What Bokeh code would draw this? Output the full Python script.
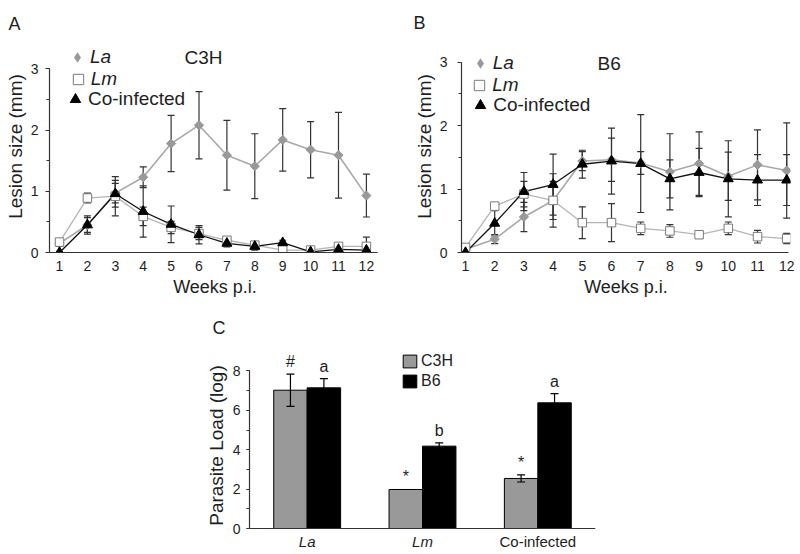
import math
from bokeh.plotting import figure
from bokeh.models import (ColumnDataSource, Range1d, FactorRange, Whisker, TeeHead, Legend,
                          LegendItem, Label, FixedTicker, SingleIntervalTicker, Span)
from bokeh.layouts import column, row
from bokeh.transform import dodge
from bokeh.core.properties import value
from bokeh.embed import file_html
from bokeh.resources import INLINE

# ---------------- data ----------------
weeks = [1, 2, 3, 4, 5, 6, 7, 8, 9, 10, 11, 12]

# Panel A: C3H lesion size (mm)
c3h_la = [0.15, 0.45, 0.97, 1.23, 1.78, 2.08, 1.59, 1.41, 1.84, 1.68, 1.59, 0.93]
c3h_la_err = [0.05, 0.12, 0.16, 0.17, 0.46, 0.55, 0.57, 0.53, 0.51, 0.46, 0.70, 0.35]
c3h_lm = [0.17, 0.89, 0.92, 0.59, 0.41, 0.31, 0.20, 0.12, 0.04, 0.04, 0.10, 0.10]
c3h_lm_err = [0.05, 0.08, 0.32, 0.15, 0.10, 0.10, 0.05, 0.04, 0.02, 0.03, 0.04, 0.15]
c3h_co = [0.00, 0.45, 0.96, 0.67, 0.46, 0.29, 0.15, 0.10, 0.16, 0.01, 0.05, 0.04]
c3h_co_err = [0.02, 0.15, 0.22, 0.42, 0.30, 0.15, 0.06, 0.06, 0.04, 0.02, 0.02, 0.04]

# Panel B: B6 lesion size (mm)
b6_la = [0.05, 0.21, 0.56, 0.82, 1.44, 1.46, 1.41, 1.27, 1.40, 1.20, 1.38, 1.29]
b6_la_err = [0.02, 0.07, 0.23, 0.42, 0.15, 0.34, 0.18, 0.60, 0.50, 0.38, 0.55, 0.75]
b6_lm = [0.08, 0.73, 0.92, 0.82, 0.47, 0.47, 0.38, 0.34, 0.28, 0.38, 0.25, 0.22]
b6_lm_err = [0.03, 0.05, 0.20, 0.30, 0.25, 0.30, 0.10, 0.10, 0.03, 0.10, 0.10, 0.08]
b6_co = [0.00, 0.46, 0.96, 1.07, 1.39, 1.44, 1.40, 1.16, 1.26, 1.16, 1.14, 1.14]
b6_co_err = [0.02, 0.20, 0.30, 0.48, 0.22, 0.52, 0.77, 0.30, 0.38, 0.60, 0.40, 0.40]

# Panel C: parasite load (log)
categories = ["La", "Lm", "Co-infected"]
load_c3h = [7.02, 1.98, 2.54]
load_c3h_err = [0.82, 0.0, 0.18]
load_b6 = [7.14, 4.18, 6.38]
load_b6_err = [0.47, 0.17, 0.47]
sig_c3h = ["#", "*", "*"]
sig_b6 = ["a", "b", "a"]

series_names = ["La", "Lm", "Co-infected"]
strain_names = ["C3H", "B6"]

# ---------------- styles ----------------
FONT = "Liberation Sans"
AXIS_COLOR = "#333333"
TEXT_COLOR = "#1e1e1e"
ERR_COLOR = "#333333"
LA_COLOR = "#999999"
LA_LINE = "#a8a8a8"
LM_LINE = "#b5b5b5"
LM_EDGE = "#7a7a7a"
ITALIC = {"La", "Lm"}


def base_style(p):
    p.outline_line_color = None
    p.xgrid.visible = False
    p.ygrid.visible = False
    for ax in (p.xaxis[0], p.yaxis[0]):
        ax.axis_line_color = AXIS_COLOR
        ax.axis_line_width = 1.2
        ax.major_tick_line_color = AXIS_COLOR
        ax.minor_tick_line_color = AXIS_COLOR
        ax.major_label_text_font = FONT
        ax.major_label_text_color = TEXT_COLOR
        ax.axis_label_text_font = FONT
        ax.axis_label_text_font_style = "normal"
        ax.axis_label_text_color = TEXT_COLOR


def panel_letter(p, letter, offset, standoff):
    p.title.text = letter
    p.title.align = "left"
    p.title.offset = offset
    p.title.standoff = standoff
    p.title.text_font = FONT
    p.title.text_font_size = "18px"
    p.title.text_font_style = "normal"
    p.title.text_color = TEXT_COLOR


def add_legend_item(p, label, renderer, vx, vy, standoff, size=26, font_size="19px"):
    lg = Legend(items=[LegendItem(label=label, renderers=[renderer])],
                location=(vx, vy), glyph_width=size, glyph_height=size, label_height=size,
                label_standoff=standoff, padding=0, margin=0, spacing=0,
                border_line_color=None, background_fill_alpha=0,
                label_text_font=FONT, label_text_font_size=font_size,
                label_text_font_style="italic" if label in ITALIC else "normal",
                label_text_color=TEXT_COLOR)
    p.add_layout(lg)


def lesion_panel(letter, strain, la, la_err, lm, lm_err, co, co_err, g):
    p = figure(width=400, height=308, output_backend="svg", toolbar_location=None,
               x_range=Range1d(g["x0"], g["x1"]), y_range=Range1d(0, g["y1"]),
               min_border_left=g["bl"], min_border_right=g["br"],
               min_border_top=40, min_border_bottom=56)
    base_style(p)
    panel_letter(p, letter, g["lt"][0], g["lt"][1])
    xa, ya = p.xaxis[0], p.yaxis[0]
    xa.ticker = FixedTicker(ticks=weeks)
    xa.bounds = (g["x0"], g["xb"])
    xa.major_tick_out = 0
    xa.major_tick_in = 0
    xa.minor_tick_out = 0
    xa.minor_tick_in = 0
    xa.major_label_text_font_size = "14px"
    xa.major_label_standoff = 8
    xa.axis_label = "Weeks p.i."
    xa.axis_label_text_font_size = "18px"
    xa.axis_label_standoff = 3
    ya.ticker = SingleIntervalTicker(interval=1, num_minor_ticks=2)
    ya.bounds = (0, 3)
    ya.major_tick_out = 4
    ya.major_tick_in = 0
    ya.minor_tick_out = 3
    ya.minor_tick_in = 0
    ya.major_label_text_font_size = "14px"
    ya.major_label_standoff = g["ls"]
    ya.axis_label = "Lesion size (mm)"
    ya.axis_label_text_font_size = "19px"
    ya.axis_label_standoff = 2

    src = ColumnDataSource(dict(
        w=weeks, la=la, lm=lm, co=co,
        la_lo=[v - e for v, e in zip(la, la_err)], la_hi=[v + e for v, e in zip(la, la_err)],
        lm_lo=[v - e for v, e in zip(lm, lm_err)], lm_hi=[v + e for v, e in zip(lm, lm_err)],
        co_lo=[v - e for v, e in zip(co, co_err)], co_hi=[v + e for v, e in zip(co, co_err)],
    ))
    for key in ("la", "lm", "co"):
        wk = Whisker(base="w", lower=key + "_lo", upper=key + "_hi", source=src,
                     line_color=ERR_COLOR, line_width=1.2,
                     upper_head=TeeHead(size=7, line_color=ERR_COLOR, line_width=1.2),
                     lower_head=TeeHead(size=7, line_color=ERR_COLOR, line_width=1.2))
        p.add_layout(wk)

    p.line("w", "la", source=src, line_color=LA_LINE, line_width=1.6)
    p.line("w", "lm", source=src, line_color=LM_LINE, line_width=1.3)
    p.line("w", "co", source=src, line_color="#111111", line_width=1.3)
    p.scatter("w", "la", source=src, marker="square", angle=math.pi / 4, size=6.5,
              fill_color=LA_COLOR, line_color=LA_COLOR)
    r_lm = p.scatter("w", "lm", source=src, marker="square", size=8.5,
                     fill_color="white", line_color=LM_EDGE, line_width=1)
    r_co = p.scatter("w", "co", source=src, marker="triangle", size=10,
                     fill_color="black", line_color="black")
    # legend swatch for La: diamond marker (the legend does not rotate glyphs)
    r_la_key = p.scatter("w", "la", source=src, marker="diamond", size=0,
                         fill_color=LA_COLOR, line_alpha=0)

    for name, r, key in zip(series_names, (r_la_key, r_lm, r_co), ("la", "lm", "co")):
        lx, ly, st = g["leg"][key]
        add_legend_item(p, name, r, lx, ly, st)

    p.add_layout(Label(x=g["st"][0], y=g["st"][1], x_units="screen", y_units="screen",
                       text=strain, text_font=FONT, text_font_size="19px",
                       text_baseline="middle", text_align="left", text_color=TEXT_COLOR))
    return p


geomA = dict(x0=0.6416, x1=0.6416 + 331 / 27.9, xb=12.39, y1=212 / 61.2, bl=49, br=20, ls=7,
             leg=dict(la=(15, 181.7, 0), lm=(15.7, 159.7, 0), co=(13, 139.7, 0)),
             st=(135, 195), lt=(-41, 14))
geomB = dict(x0=0.863, x1=0.863 + 329 / 29.2, xb=12.06, y1=212 / 63.5, bl=61, br=10, ls=10,
             leg=dict(la=(5.7, 176, 0), lm=(5.2, 154, 0), co=(6.2, 134, 0)),
             st=(136, 189), lt=(-48, 15))

pA = lesion_panel("A", strain_names[0], c3h_la, c3h_la_err, c3h_lm, c3h_lm_err, c3h_co, c3h_co_err, geomA)
pB = lesion_panel("B", strain_names[1], b6_la, b6_la_err, b6_lm, b6_lm_err, b6_co, b6_co_err, geomB)

# ---------------- panel C ----------------
Y_UNIT_C = 19.7
pC = figure(width=600, height=246, output_backend="svg", toolbar_location=None,
            x_range=FactorRange(factors=categories),
            y_range=Range1d(-22 / Y_UNIT_C, 188 / Y_UNIT_C),
            min_border_left=249, min_border_right=5, min_border_top=32, min_border_bottom=4)
base_style(pC)
panel_letter(pC, "C", -37, 6)
pC.xaxis.visible = False
cy = pC.yaxis[0]
cy.ticker = SingleIntervalTicker(interval=2, num_minor_ticks=2)
cy.bounds = (0, 8)
cy.major_tick_out = 3
cy.major_tick_in = 0
cy.minor_tick_out = 3
cy.minor_tick_in = 0
cy.major_label_text_font_size = "14px"
cy.major_label_standoff = 6
cy.axis_label = "Parasite Load (log)"
cy.axis_label_text_font_size = "19px"
cy.axis_label_standoff = 3
# category axis line at zero
pC.add_layout(Span(location=0, dimension="width", line_color=AXIS_COLOR, line_width=1.2))

DX = 0.145
BW = 0.29
srcC = ColumnDataSource(dict(
    cat=categories, c3h=load_c3h, b6=load_b6,
    c3h_top=[v + e for v, e in zip(load_c3h, load_c3h_err)],
    b6_top=[v + e for v, e in zip(load_b6, load_b6_err)],
    c3h_sig=sig_c3h, b6_sig=sig_b6,
    zero=[0] * len(categories),
    style=["italic" if c in ITALIC else "normal" for c in categories],
))
r_c3h = pC.vbar(x=dodge("cat", -DX, range=pC.x_range), top="c3h", width=BW, source=srcC,
                fill_color=LA_COLOR, line_color="black", line_width=1)
r_b6 = pC.vbar(x=dodge("cat", DX, range=pC.x_range), top="b6", width=BW, source=srcC,
               fill_color="black", line_color="black", line_width=1)

for vals, errs, off in ((load_c3h, load_c3h_err, -DX), (load_b6, load_b6_err, DX)):
    idx = [i for i, e in enumerate(errs) if e > 0]
    es = ColumnDataSource(dict(cat=[categories[i] for i in idx],
                               lo=[vals[i] - errs[i] for i in idx],
                               hi=[vals[i] + errs[i] for i in idx]))
    pC.add_layout(Whisker(base=dodge("cat", off, range=pC.x_range), lower="lo", upper="hi",
                          source=es, line_color="black", line_width=1.2, level="overlay",
                          upper_head=TeeHead(size=8, line_color="black", line_width=1.2),
                          lower_head=TeeHead(size=8, line_color="black", line_width=1.2)))

for col, top, off in (("c3h_sig", "c3h_top", -DX), ("b6_sig", "b6_top", DX)):
    pC.text(x=dodge("cat", off, range=pC.x_range), y=top, text=col, source=srcC,
            text_align="center", text_baseline="bottom", y_offset=-4,
            text_font=value(FONT), text_font_size=value("16px"), text_color=TEXT_COLOR)

# category tick labels (species names in italics)
pC.text(x="cat", y="zero", text="cat", source=srcC, text_align="center", text_baseline="top",
        y_offset=4, text_font=value(FONT), text_font_size=value("15px"),
        text_font_style={"field": "style"}, text_color=TEXT_COLOR)

legC = Legend(items=[LegendItem(label=strain_names[0], renderers=[r_c3h]),
                     LegendItem(label=strain_names[1], renderers=[r_b6])],
              location=(152, 159.6), glyph_width=17, glyph_height=16, label_height=16,
              spacing=2, padding=0, margin=0, label_standoff=3,
              border_line_color=None, background_fill_alpha=0,
              label_text_font=FONT, label_text_font_size="16px", label_text_color=TEXT_COLOR)
pC.add_layout(legC)

layout = column(row(pA, pB), pC)
open("out.html", "w").write(file_html(layout, INLINE))
